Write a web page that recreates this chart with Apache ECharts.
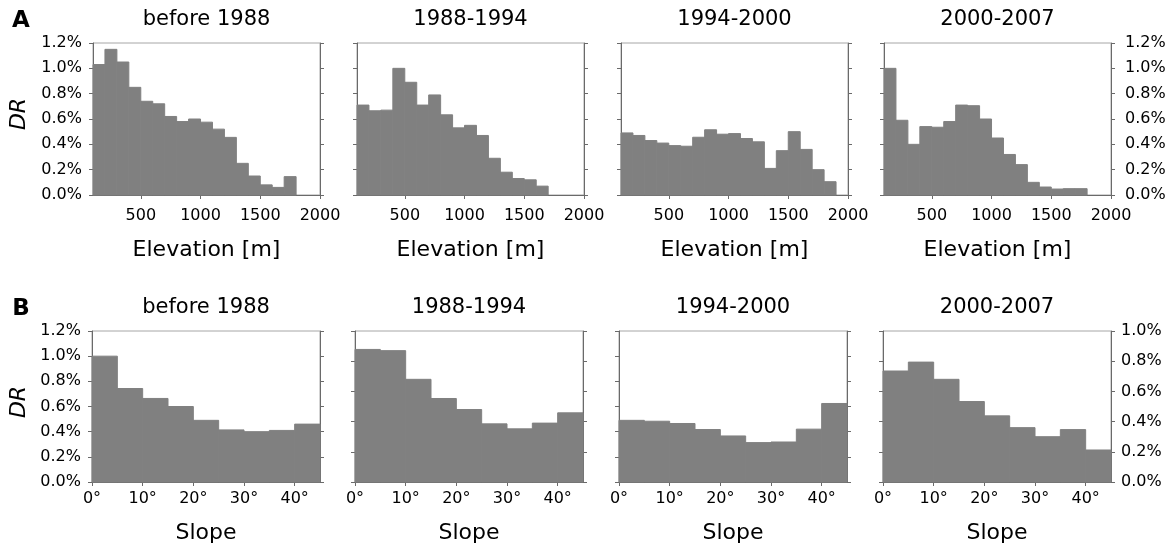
<!DOCTYPE html>
<html>
<head>
<meta charset="utf-8">
<script src="https://cdn.jsdelivr.net/npm/echarts@6/dist/echarts.min.js"></script>
<style>
html,body{margin:0;padding:0;background:#fff;}
#chart{width:1173px;height:551px;}
</style>
</head>
<body>
<div id="chart"></div>
<script>
// ---- data ----
const panelTitles = ['before 1988', '1988-1994', '1994-2000', '2000-2007'];
const elevEdges = [100, 200, 300, 400, 500, 600, 700, 800, 900, 1000, 1100, 1200, 1300, 1400, 1500, 1600, 1700, 1800, 1900, 2000];
const slopeEdges = [0, 5, 10, 15, 20, 25, 30, 35, 40, 45];
const elevTickLabels = [500, 1000, 1500, 2000];
const slopeTickLabels = [0, 10, 20, 30, 40];

const elevBefore1988 = [1.03, 1.15, 1.05, 0.85, 0.74, 0.72, 0.62, 0.58, 0.60, 0.575, 0.52, 0.455, 0.25, 0.15, 0.08, 0.06, 0.145];
const elev1988to1994 = [0.71, 0.665, 0.67, 1.00, 0.89, 0.71, 0.79, 0.633, 0.53, 0.55, 0.47, 0.29, 0.18, 0.13, 0.12, 0.07];
const elev1994to2000 = [0.49, 0.47, 0.43, 0.41, 0.39, 0.385, 0.456, 0.515, 0.48, 0.485, 0.446, 0.42, 0.21, 0.35, 0.50, 0.36, 0.20, 0.105];
const elev2000to2007 = [1.00, 0.59, 0.40, 0.54, 0.535, 0.58, 0.71, 0.705, 0.60, 0.45, 0.32, 0.24, 0.10, 0.063, 0.047, 0.05, 0.05];

const slopeBefore1988 = [1.00, 0.743, 0.664, 0.60, 0.49, 0.414, 0.40, 0.41, 0.46];
const slope1988to1994 = [0.878, 0.87, 0.68, 0.553, 0.48, 0.385, 0.352, 0.39, 0.458];
const slope1994to2000 = [0.49, 0.483, 0.465, 0.417, 0.366, 0.313, 0.318, 0.42, 0.624];
const slope2000to2007 = [0.735, 0.794, 0.68, 0.533, 0.438, 0.36, 0.30, 0.347, 0.212];

// y-axis maxima per panel (%), row A then row B
const rowAYMax = [1.2, 1.2, 1.2, 1.2];
const rowBYMax = [1.2, 1.0, 1.2, 1.0];

// ---- layout / style ----
const FONT = 'DejaVu Sans';
const BAR = '#808080';
const AXIS = '#6a6a6a';
const BORDER = '#a6a6a6';
const rowA = {top: 43, height: 152, lefts: [93, 357, 621, 884], width: 227};
const rowB = {top: 331, height: 151, lefts: [92, 355, 619, 883], width: 228};

const grids = [], xAxes = [], yAxes = [], series = [], graphics = [];

function binsToData(edges, vals) {
  return vals.map((v, i) => [edges[i], edges[i + 1], v]);
}
function renderBin(params, api) {
  const p0 = api.coord([api.value(0), api.value(2)]);
  const p1 = api.coord([api.value(1), 0]);
  return {
    type: 'rect',
    shape: {x: p0[0], y: p0[1], width: p1[0] - p0[0], height: p1[1] - p0[1]},
    style: {fill: BAR, stroke: BAR, lineWidth: 1}
  };
}
const pctFmt = v => v.toFixed(1) + '%';

function addPanel(row, col, isA, edges, vals, yMax) {
  const gi = grids.length;
  grids.push({left: row.lefts[col], top: row.top, width: row.width, height: row.height,
    show: true, borderColor: BORDER, borderWidth: 1, backgroundColor: 'transparent'});
  const ticks = isA ? elevTickLabels : slopeTickLabels;
  xAxes.push({
    type: 'value', gridIndex: gi,
    min: isA ? elevEdges[0] : slopeEdges[0],
    max: isA ? elevEdges[elevEdges.length - 1] : slopeEdges[slopeEdges.length - 1],
    name: isA ? 'Elevation [m]' : 'Slope',
    nameLocation: 'middle', nameGap: isA ? 44 : 40,
    nameTextStyle: {fontFamily: FONT, fontSize: 22, color: '#000'},
    axisLine: {show: true, onZero: false, lineStyle: {color: AXIS, width: 1}},
    axisTick: {show: true, inside: false, length: 4, customValues: ticks, lineStyle: {color: AXIS}},
    axisLabel: {show: true, customValues: ticks, margin: isA ? 13 : 9,
      fontFamily: FONT, fontSize: 16, color: '#000',
      formatter: v => isA ? String(v) : v + '°'},
    splitLine: {show: false}
  });
  const yi = yAxes.length;
  const common = {
    type: 'value', gridIndex: gi, min: 0, max: yMax, interval: 0.2,
    axisLine: {show: true, lineStyle: {color: AXIS, width: 1}},
    axisTick: {show: true, inside: false, length: 4, lineStyle: {color: AXIS}},
    splitLine: {show: false}
  };
  yAxes.push(Object.assign({}, common, {
    position: 'left',
    axisLabel: {show: col === 0, margin: 11, fontFamily: FONT, fontSize: 16, color: '#000', formatter: pctFmt}
  }));
  yAxes.push(Object.assign({}, common, {
    position: 'right',
    axisLabel: {show: col === 3, margin: isA ? 14 : 10, fontFamily: FONT, fontSize: 16, color: '#000', formatter: pctFmt}
  }));
  series.push({
    type: 'custom', xAxisIndex: gi, yAxisIndex: yi,
    renderItem: renderBin,
    encode: {x: [0, 1], y: 2},
    data: binsToData(edges, vals),
    silent: true, z: 1
  });
  graphics.push({
    type: 'text', x: row.lefts[col] + row.width / 2, y: row.top - 23,
    style: {text: panelTitles[col], fontFamily: FONT, fontSize: 21, fill: '#000',
      textAlign: 'center', textVerticalAlign: 'middle'}
  });
}

const elevSets = [elevBefore1988, elev1988to1994, elev1994to2000, elev2000to2007];
const slopeSets = [slopeBefore1988, slope1988to1994, slope1994to2000, slope2000to2007];
for (let c = 0; c < 4; c++) addPanel(rowA, c, true, elevEdges, elevSets[c], rowAYMax[c]);
for (let c = 0; c < 4; c++) addPanel(rowB, c, false, slopeEdges, slopeSets[c], rowBYMax[c]);

graphics.push({type: 'text', x: 21, y: 21,
  style: {text: 'A', fontFamily: FONT, fontSize: 23, fontWeight: 'bold', fill: '#000', textAlign: 'center', textVerticalAlign: 'middle'}});
graphics.push({type: 'text', x: 21, y: 309,
  style: {text: 'B', fontFamily: FONT, fontSize: 23, fontWeight: 'bold', fill: '#000', textAlign: 'center', textVerticalAlign: 'middle'}});
graphics.push({type: 'text', x: 19, y: 114, rotation: Math.PI / 2,
  style: {text: 'DR', fontFamily: FONT, fontSize: 22, fontStyle: 'italic', fill: '#000', textAlign: 'center', textVerticalAlign: 'middle'}});
graphics.push({type: 'text', x: 19, y: 402, rotation: Math.PI / 2,
  style: {text: 'DR', fontFamily: FONT, fontSize: 22, fontStyle: 'italic', fill: '#000', textAlign: 'center', textVerticalAlign: 'middle'}});

const chart = echarts.init(document.getElementById('chart'), null, {renderer: 'canvas'});
chart.setOption({
  animation: false,
  backgroundColor: '#fff',
  textStyle: {fontFamily: FONT},
  grid: grids, xAxis: xAxes, yAxis: yAxes, series: series,
  graphic: graphics
});
</script>
</body>
</html>
